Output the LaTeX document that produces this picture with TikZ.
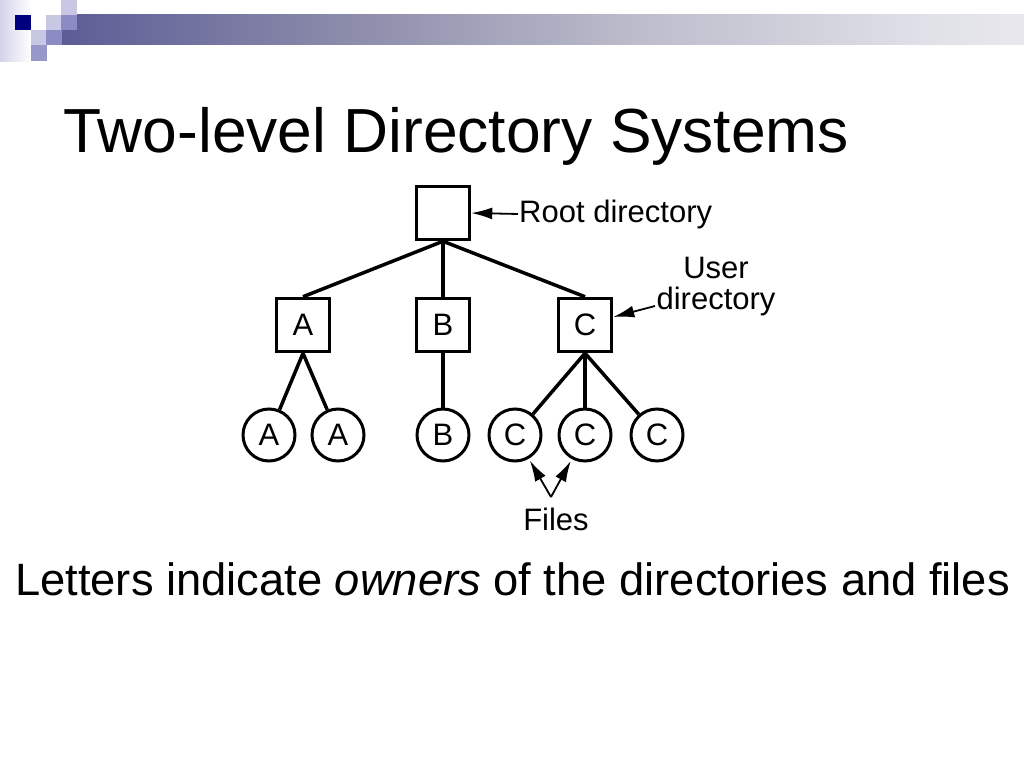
\documentclass[tikz,border=0pt]{standalone}
\usepackage{fontspec}
\setmainfont{Liberation Sans}
\usetikzlibrary{arrows.meta}
\definecolor{navy}{HTML}{00007F}
\definecolor{lightlav}{HTML}{C8C8E4}
\definecolor{midlav}{HTML}{8C8CC4}
\pgfdeclarehorizontalshading{barshade}{100bp}{rgb(0bp)=(0.10,0.10,0.52); rgb(20bp)=(0.30,0.30,0.56); rgb(40bp)=(0.55,0.55,0.67); rgb(55bp)=(0.74,0.74,0.80); rgb(70bp)=(0.88,0.88,0.91); rgb(85bp)=(0.96,0.96,0.97); rgb(100bp)=(1,1,1)}
\tikzset{
  dirbox/.style={draw, line width=3.5pt, minimum width=53pt, minimum height=53pt, inner sep=0pt, font=\fontsize{31}{36}\selectfont},
  filec/.style={draw, circle, line width=3pt, minimum size=52pt, inner sep=0pt, font=\fontsize{31}{36}\selectfont},
  tree/.style={line width=3.5pt},
  lbl/.style={font=\fontsize{31}{31}\selectfont, inner sep=1pt},
  pointer/.style={line width=1.8pt, -{Latex[length=21pt,width=12pt]}},
  sq/.style={minimum size=15.3pt, inner sep=0pt, anchor=north west}
}
\begin{document}
\begin{tikzpicture}[x=1pt,y=-1pt]
\useasboundingbox (0,0) rectangle (1024,768);
% decoration
\shade[left color=lightlav!80, right color=white] (0,0) rectangle (31,61);
\shade[shading=barshade] (61,15) rectangle (1024,45);
\node[sq, fill=navy] (d1) at (15,15) {};
\node[sq, fill=lightlav] (d2) at (61,0) {};
\node[sq, fill=lightlav] (d3) at (46,15) {};
\node[sq, fill=midlav] (d4) at (61,15) {};
\node[sq, fill=lightlav] (d5) at (31,30) {};
\node[sq, fill=midlav] (d6) at (46,30) {};
\node[sq, fill=midlav!90] (d7) at (31,45) {};
% title
\node[anchor=base west, inner sep=0pt, font=\fontsize{62.3}{70}\selectfont] (title) at (63,152) {Two-level Directory Systems};
% tree
\node[dirbox] (root) at (443,213) {};
\node[dirbox] (A) at (303,325) {A};
\node[dirbox] (B) at (443,325) {B};
\node[dirbox] (C) at (585,325) {C};
\node[filec] (a1) at (269,435) {A};
\node[filec] (a2) at (338,435) {A};
\node[filec] (b1) at (443,435) {B};
\node[filec] (c1) at (515,435) {C};
\node[filec] (c2) at (585,435) {C};
\node[filec] (c3) at (657,435) {C};
\draw[tree] (root.south) -- (A.north);
\draw[tree] (root.south) -- (B.north);
\draw[tree] (root.south) -- (C.north);
\draw[tree] (A.south) -- (a1);
\draw[tree] (A.south) -- (a2);
\draw[tree] (B.south) -- (b1);
\draw[tree] (C.south) -- (c1);
\draw[tree] (C.south) -- (c2);
\draw[tree] (C.south) -- (c3);
% labels
\node[lbl, anchor=base west] (rootlbl) at (518,222) {Root directory};
\draw[pointer] (rootlbl.west) -- (root.east);
\node[lbl, align=center, anchor=base] (userlbl) at (716,309) {User\\directory};
\coordinate (ud) at (655,306);
\draw[pointer] (ud) -- ([yshift=8pt]C.east);
\node[lbl, anchor=base] (files) at (556,530) {Files};
\coordinate (apex) at (551,497);
\draw[pointer, shorten >=2pt] (apex) -- (c1);
\draw[pointer, shorten >=2pt] (apex) -- (c2);
% caption
\node[anchor=base west, inner sep=0pt, font=\fontsize{45.3}{50}\selectfont] (caption) at (15,595) {Letters indicate \textit{owners} of the directories and files};
\end{tikzpicture}
\end{document}
